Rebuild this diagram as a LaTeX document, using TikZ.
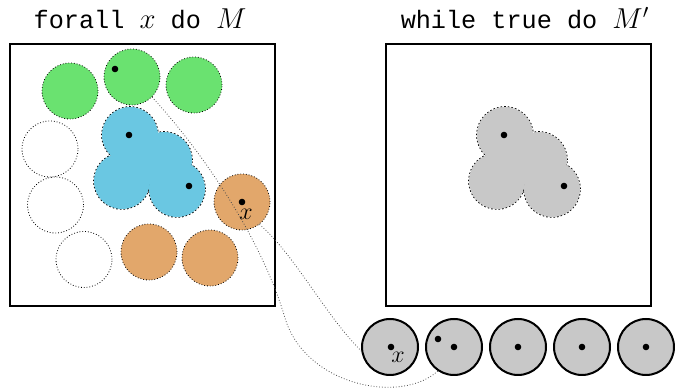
\documentclass[tikz,border=0pt]{standalone}
\usepackage{fontspec}
\newfontfamily\codefont{Liberation Mono}[Scale=0.9]
\definecolor{regiongreen}{RGB}{106,226,112}
\definecolor{regionblue}{RGB}{106,199,226}
\definecolor{regionorange}{RGB}{226,167,107}
\definecolor{regiongray}{RGB}{200,200,200}
\begin{document}
\begin{tikzpicture}[x=0.5pt,y=-0.5pt,
  frame/.style={draw=black, line width=1pt},
  title/.style={anchor=base, inner sep=0pt, font=\fontsize{14}{16}\selectfont},
  region/.style={circle, inner sep=0pt, minimum size=28pt, draw=black, densely dotted, line width=0.4pt},
  cell/.style={circle, inner sep=0pt, minimum size=28pt, draw=black, line width=1pt, fill=regiongray},
  pt/.style={circle, inner sep=0pt, minimum size=3.3pt, fill=black},
  lbl/.style={inner sep=0pt, font=\fontsize{12}{14}\selectfont},
  link/.style={draw=black!70, densely dotted, line width=0.4pt},
  lobe/.style={draw=black, densely dotted, line width=0.8pt}]
\useasboundingbox (0,0) rectangle (675,389);

% titles
\node[title] (t1) at (140,29) {{\codefont forall }$x${\codefont\ do }$M$};
\node[title] (t2) at (525,29) {{\codefont while true do }$M'$};

% frames
\node[frame, inner sep=0pt, minimum width=132.5pt, minimum height=131pt] (left) at (142.5,175) {};
\node[frame, inner sep=0pt, minimum width=132.5pt, minimum height=131pt] (right) at (518,175) {};

% single regions
\node[region, fill=regiongreen] (g1) at (70,91) {};
\node[region, fill=regiongreen] (g2) at (132,77) {};
\node[region, fill=regiongreen] (g3) at (194,85) {};
\node[region] (e1) at (50,149) {};
\node[region] (e2) at (55.5,205) {};
\node[region] (e3) at (84,259.5) {};
\node[region, fill=regionorange] (o1) at (242,202) {};
\node[region, fill=regionorange] (o2) at (149,252) {};
\node[region, fill=regionorange] (o3) at (210,258) {};

% merged regions: outline of the union, then the fill on top
\foreach \dx/\col in {0/regionblue, 375/regiongray} {
  \begin{scope}[shift={(\dx,0)}]
    \foreach \cx/\cy in {130/135, 164/160, 122/181, 177/189}
      \path[lobe] (\cx,\cy) circle[radius=14pt];
    \foreach \cx/\cy in {130/135, 164/160, 122/181, 177/189}
      \fill[\col] (\cx,\cy) circle[radius=14pt];
  \end{scope}
}

% bottom row
\node[cell] (b1) at (390,347) {};
\node[cell] (b2) at (454,347) {};
\node[cell] (b3) at (518,347) {};
\node[cell] (b4) at (582,347) {};
\node[cell] (b5) at (646,347) {};

% points
\node[pt] (pg) at (115,69) {};
\node[pt] (pb1) at (129,135) {};
\node[pt] (pb2) at (189,186) {};
\node[pt] (po) at (242,202) {};
\node[pt] (pr1) at (504,135) {};
\node[pt] (pr2) at (564,186) {};
\node[pt] (c1) at (391,347) {};
\node[pt] (c2a) at (438,339) {};
\node[pt] (c2b) at (454,347) {};
\node[pt] (c3) at (518,347) {};
\node[pt] (c4) at (582,347) {};
\node[pt] (c5) at (646,347) {};

\node[lbl] (xo) at (246,214) {$x$};
\node[lbl] (xb) at (398,357) {$x$};

% connectors
\draw[link] (g2.-45) .. controls (205,155) and (262,240) .. (285,318)
  .. controls (305,385) and (400,405) .. (b2.-124);
\draw[link] (o1.-52) .. controls (295,255) and (325,315) .. (b1.188);
\end{tikzpicture}
\end{document}
